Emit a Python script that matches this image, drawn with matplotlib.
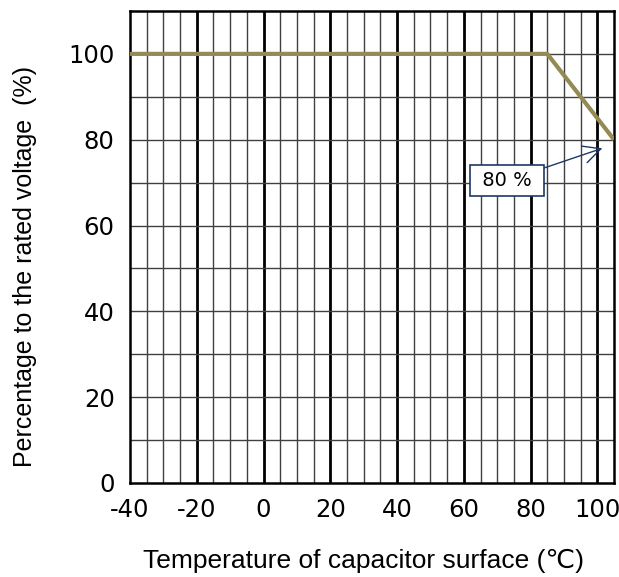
import matplotlib
matplotlib.use("Agg")
import matplotlib.pyplot as plt
import numpy as np

# derating curve
temps = [-40, 85, 105]
percent = [100, 100, 80]

x_ticks = [-40, -20, 0, 20, 40, 60, 80, 100]
y_ticks = [0, 20, 40, 60, 80, 100]

fig = plt.figure(figsize=(6.19, 5.77), dpi=100)
ax = fig.add_axes([0.21, 0.163, 0.782, 0.818])

ax.set_xlim(-40, 105)
ax.set_ylim(0, 110)

# grid: thin every 5 deg / 10 %, thick every 20 deg
for x in np.arange(-35, 105, 5):
    if x % 20 == 0:
        ax.axvline(x, color='black', lw=2.0, zorder=1)
    else:
        ax.axvline(x, color='#404040', lw=1.0, zorder=1)
for y in np.arange(10, 110, 10):
    ax.axhline(y, color='#404040', lw=1.0, zorder=1)

for s in ax.spines.values():
    s.set_linewidth(1.8)
    s.set_color('black')

ax.plot(temps, percent, color='#948A54', lw=3, zorder=3, solid_capstyle='butt')

ax.annotate(' 80 % ', xy=(101.5, 78), xytext=(73, 70.5),
            fontsize=14, family='DejaVu Sans', ha='center', va='center',
            bbox=dict(boxstyle='square,pad=0.3', fc='white', ec='#1F3864', lw=1.2),
            arrowprops=dict(arrowstyle='->,head_length=0.9,head_width=0.45',
                            color='#1F3864', lw=1.0, shrinkA=0, shrinkB=0),
            zorder=4)

ax.set_xticks(x_ticks)
ax.set_xticklabels([str(v) for v in x_ticks])
ax.set_yticks(y_ticks)
ax.set_yticklabels([str(v) for v in y_ticks])
ax.tick_params(length=0, labelsize=17.5, pad=11)
for lab in ax.get_xticklabels() + ax.get_yticklabels():
    lab.set_family('DejaVu Sans')

ax.set_xlabel('Temperature of capacitor surface (℃)', fontsize=19,
              family=['Liberation Sans', 'DejaVu Sans'])
ax.set_ylabel('Percentage to the rated voltage  (%)', fontsize=18,
              family=['Liberation Sans', 'DejaVu Sans'])
ax.xaxis.set_label_coords(0.483, -0.14)
ax.yaxis.set_label_coords(-0.192, 0.458)

fig.savefig('out.png', dpi=100)
